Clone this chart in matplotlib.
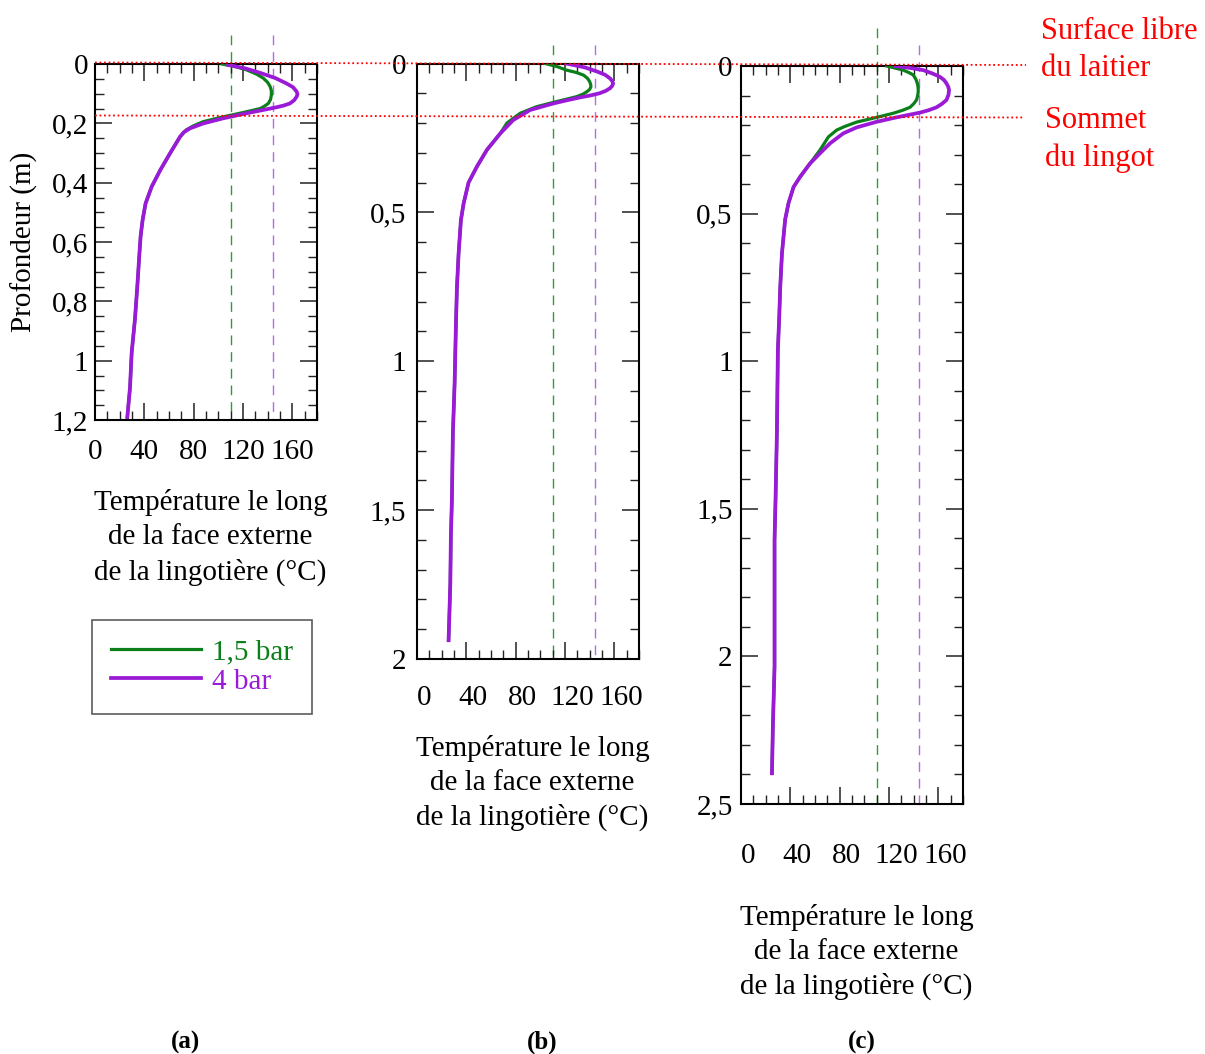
import matplotlib
matplotlib.use("Agg")
import matplotlib.pyplot as plt
import matplotlib.transforms as mtransforms
from matplotlib.lines import Line2D
from matplotlib.ticker import MultipleLocator

# ---------------- data ----------------
x_ticks = [0, 40, 80, 120, 160]
x_tick_labels = ["0", "40", "80", "120", "160"]

y_ticks_a = [0, 0.2, 0.4, 0.6, 0.8, 1.0, 1.2]
y_labels_a = ["0", "0,2", "0,4", "0,6", "0,8", "1", "1,2"]
y_ticks_b = [0, 0.5, 1.0, 1.5, 2.0]
y_labels_b = ["0", "0,5", "1", "1,5", "2"]
y_ticks_c = [0, 0.5, 1.0, 1.5, 2.0, 2.5]
y_labels_c = ["0", "0,5", "1", "1,5", "2", "2,5"]

series_labels = ["1,5 bar", "4 bar"]

# panel (a)
depth_a_15 = [0, 0.01, 0.02, 0.034, 0.048, 0.062, 0.076, 0.09, 0.105, 0.12, 0.133, 0.142, 0.15,
              0.158, 0.166, 0.178, 0.194, 0.208, 0.222, 0.245,
              0.30, 0.357, 0.413, 0.47, 0.526, 0.58, 0.64, 0.75, 0.86, 0.975, 1.09, 1.19]
temp_a_15 = [103, 115, 123, 131, 136.5, 140, 142, 143, 143, 142.3, 140.5, 137.5, 134,
             126, 117.5, 104, 88, 80, 74, 69,
             61, 53, 46, 41, 38.6, 37, 36, 34.3, 32.4, 29.7, 28.4, 26.2]
depth_a_4 = [0.003, 0.015, 0.03, 0.047, 0.065, 0.078, 0.093, 0.102, 0.11, 0.122, 0.133, 0.14,
             0.146, 0.156, 0.166, 0.183, 0.2, 0.217, 0.23, 0.245,
             0.30, 0.357, 0.413, 0.47, 0.526, 0.58, 0.64, 0.75, 0.86, 0.975, 1.09, 1.19]
temp_a_4 = [108, 122, 134, 146, 155, 160.5, 163.5, 164.2, 163.5, 161.5, 158, 153,
            147, 135, 123, 104, 88, 77, 72, 69,
            61, 53, 46, 41, 38.6, 37, 36, 34.3, 32.4, 29.7, 28.4, 26.2]

# panel (b)
depth_b_15 = [0, 0.011, 0.022, 0.03, 0.039, 0.05, 0.061, 0.07, 0.078, 0.087, 0.095, 0.103, 0.111,
              0.12, 0.128, 0.145, 0.167, 0.2, 0.235,
              0.29, 0.346, 0.40, 0.47, 0.526, 0.64, 0.75, 0.84, 0.906, 1.074, 1.24, 1.466,
              1.58, 1.746, 1.857, 1.937]
temp_b_15 = [104, 114, 121, 129, 135, 138.3, 140, 140.8, 141, 140, 137.7, 134.5, 129.6,
             121, 113, 97, 83.7, 72.9, 67.5,
             56.7, 48.6, 41.8, 37.8, 35.6, 33.7, 32.4, 31.8, 31.4, 30.5, 29.1, 28.3,
             27.5, 27, 26.2, 25.6]
depth_b_4 = [0, 0.013, 0.027, 0.038, 0.05, 0.059, 0.067, 0.075, 0.083, 0.092, 0.1, 0.107, 0.114,
             0.124, 0.134, 0.156, 0.19, 0.235,
             0.29, 0.346, 0.40, 0.47, 0.526, 0.64, 0.75, 0.84, 0.906, 1.074, 1.24, 1.466,
             1.58, 1.746, 1.857, 1.937]
temp_b_4 = [121, 136, 146, 152.5, 156.5, 158.3, 159, 158.3, 156.5, 153, 148, 141, 132,
            121, 110.7, 91.8, 78, 67.5,
            56.7, 48.6, 41.8, 37.8, 35.6, 33.7, 32.4, 31.8, 31.4, 30.5, 29.1, 28.3,
            27.5, 27, 26.2, 25.6]

# panel (c)
depth_c_15 = [0, 0.007, 0.014, 0.022, 0.03, 0.045, 0.059, 0.073, 0.087, 0.1, 0.115, 0.128, 0.14,
              0.15, 0.16, 0.174, 0.19, 0.205, 0.217, 0.24,
              0.285, 0.33, 0.375, 0.41, 0.465, 0.52, 0.635, 0.75, 0.85, 0.962, 1.244,
              1.47, 1.606, 2.035, 2.227, 2.396]
temp_c_15 = [118, 125, 131.5, 136, 139.6, 141.8, 143, 143.6, 143.7, 143.3, 142.3, 140, 137,
             131, 123.5, 110, 93.8, 84, 77.6, 70.9,
             64, 56, 48, 42.6, 38.5, 35.8, 33.2, 31.8, 31, 29.9, 29.1,
             28, 27.2, 27.2, 25.9, 25.1]
depth_c_4 = [0, 0.007, 0.014, 0.025, 0.036, 0.047, 0.059, 0.07, 0.081, 0.098, 0.115, 0.128, 0.14,
             0.15, 0.158, 0.174, 0.189, 0.208, 0.228,
             0.262, 0.296, 0.33, 0.375, 0.41, 0.465, 0.52, 0.635, 0.75, 0.85, 0.962, 1.244,
             1.47, 1.606, 2.035, 2.227, 2.396]
temp_c_4 = [124.8, 138, 147.7, 155, 161, 164.5, 166.6, 168, 168.7, 168.2, 166.6, 163, 158.5,
            152, 145, 126, 110, 93.8, 83,
            72.2, 64, 56, 48, 42.6, 38.5, 35.8, 33.2, 31.8, 31, 29.9, 29.1,
            28, 27.2, 27.2, 25.9, 25.1]

# reference temperatures (dashed verticals)
ref_temp_15 = 110
ref_temp_4 = 144

xlabel_text = "Température le long\nde la face externe\nde la lingotière (°C)"
ylabel_text = "Profondeur (m)"
annot_top = "Surface libre\ndu laitier"
annot_bot = "Sommet\ndu lingot"
panel_tags = ["(a)", "(b)", "(c)"]

# ---------------- style ----------------
GREEN = "#0b7f1a"
PURPLE = "#9a1ad8"
GREEN_D = "#2f9a3c"
PURPLE_D = "#b66ae8"
FS = 21

W, H = 1205, 1054
plt.rcParams["font.family"] = ["Liberation Serif", "DejaVu Serif"]
fig = plt.figure(figsize=(W / 100, H / 100), dpi=100)


def rect(left, top, right, bottom):
    return [left / W, 1 - bottom / H, (right - left) / W, (bottom - top) / H]


panels = [
    dict(rect=rect(95, 64, 317, 420), ymax=1.2, yt=y_ticks_a, yl=y_labels_a, yminor=0.05,
         d15=depth_a_15, t15=temp_a_15, d4=depth_a_4, t4=temp_a_4,
         dash_top15=-0.098, dash_top4=-0.098, dash_bot=1.2, xpad=14, ypad=5, xshift=0,
         xlab=(0.52, -0.195)),
    dict(rect=rect(417, 63.5, 639, 659), ymax=2.0, yt=y_ticks_b, yl=y_labels_b, yminor=0.1,
         d15=depth_b_15, t15=temp_b_15, d4=depth_b_4, t4=temp_b_4,
         dash_top15=-0.062, dash_top4=-0.062, dash_bot=2.0, xpad=18.5, ypad=8, xshift=7,
         xlab=(0.52, -0.127)),
    dict(rect=rect(741, 66, 963, 804), ymax=2.5, yt=y_ticks_c, yl=y_labels_c, yminor=0.1,
         d15=depth_c_15, t15=temp_c_15, d4=depth_c_4, t4=temp_c_4,
         dash_top15=-0.129, dash_top4=-0.071, dash_bot=2.51, xpad=28, ypad=6, xshift=7,
         xlab=(0.52, -0.135)),
]

axes = []
for p in panels:
    ax = fig.add_axes(p["rect"])
    axes.append(ax)
    ax.set_xlim(0, 180)
    ax.set_ylim(p["ymax"], 0)
    for s in ax.spines.values():
        s.set_linewidth(1.5)
        s.set_color("black")
    ax.set_xticks(x_ticks, x_tick_labels)
    ax.set_yticks(p["yt"], p["yl"])
    ax.xaxis.set_minor_locator(MultipleLocator(10))
    ax.yaxis.set_minor_locator(MultipleLocator(p["yminor"]))
    ax.tick_params(which="both", direction="in", top=True, right=True, labelsize=FS,
                   color="#222222")
    ax.tick_params(which="major", length=12, width=1.1)
    ax.tick_params(which="minor", length=6.5, width=1.0)
    ax.tick_params(axis="x", pad=p["xpad"])
    ax.tick_params(axis="y", pad=p["ypad"])
    if p["xshift"]:
        off = mtransforms.ScaledTranslation(p["xshift"] / 100, 0, fig.dpi_scale_trans)
        for lbl in ax.get_xticklabels():
            lbl.set_transform(lbl.get_transform() + off)

    # reference dashed lines
    ax.plot([ref_temp_15, ref_temp_15], [p["dash_top15"], p["dash_bot"]], color=GREEN_D,
            lw=1.0, dashes=(7, 5), clip_on=False, zorder=1)
    ax.plot([ref_temp_4, ref_temp_4], [p["dash_top4"], p["dash_bot"]], color=PURPLE_D,
            lw=1.0, dashes=(7, 5), clip_on=False, zorder=1)

    ax.plot(p["t15"], p["d15"], color=GREEN, lw=2.3, zorder=3, label=series_labels[0],
            solid_joinstyle="round")
    ax.plot(p["t4"], p["d4"], color=PURPLE, lw=2.7, zorder=4, label=series_labels[1],
            solid_joinstyle="round")

    ax.set_xlabel(xlabel_text, fontsize=FS, linespacing=1.4)
    ax.xaxis.set_label_coords(*p["xlab"])

axes[0].set_ylabel(ylabel_text, fontsize=FS)
axes[0].yaxis.set_label_coords(-0.255, 0.5)

# legend
handles = [Line2D([], [], color=GREEN, lw=2.3), Line2D([], [], color=PURPLE, lw=2.7)]
leg = fig.legend(handles, series_labels, loc="upper left",
                 bbox_to_anchor=(92 / W, 1 - 620 / H), fontsize=FS,
                 frameon=True, fancybox=False, edgecolor="#333333",
                 handlelength=3.1, handletextpad=0.35, borderpad=0.65,
                 labelspacing=0.1, borderaxespad=0)
leg.get_frame().set_linewidth(1.2)
for txt, col in zip(leg.get_texts(), [GREEN, PURPLE]):
    txt.set_color(col)

# red dotted horizontal reference lines across the figure
def pxline(x0, y0, x1, y1):
    return Line2D([x0 / W, x1 / W], [1 - y0 / H, 1 - y1 / H], transform=fig.transFigure,
                  color="red", lw=1.3, linestyle=(0, (1, 1.5)), zorder=10)

fig.lines.append(pxline(95, 62.5, 1026, 65))
fig.lines.append(pxline(95, 115.5, 1024, 117.5))

fig.text(1041 / W, 1 - 50 / H, annot_top, color="red", fontsize=22, ha="left",
         va="center", linespacing=1.4)
fig.text(1045 / W, 1 - 139.5 / H, annot_bot, color="red", fontsize=22, ha="left",
         va="center", linespacing=1.4)

for tag, xc in zip(panel_tags, [185, 542, 862]):
    fig.text(xc / W, 1 - 1042 / H, tag, fontsize=18, fontweight="bold", ha="center",
             va="center")

fig.savefig("out.png", dpi=100)
